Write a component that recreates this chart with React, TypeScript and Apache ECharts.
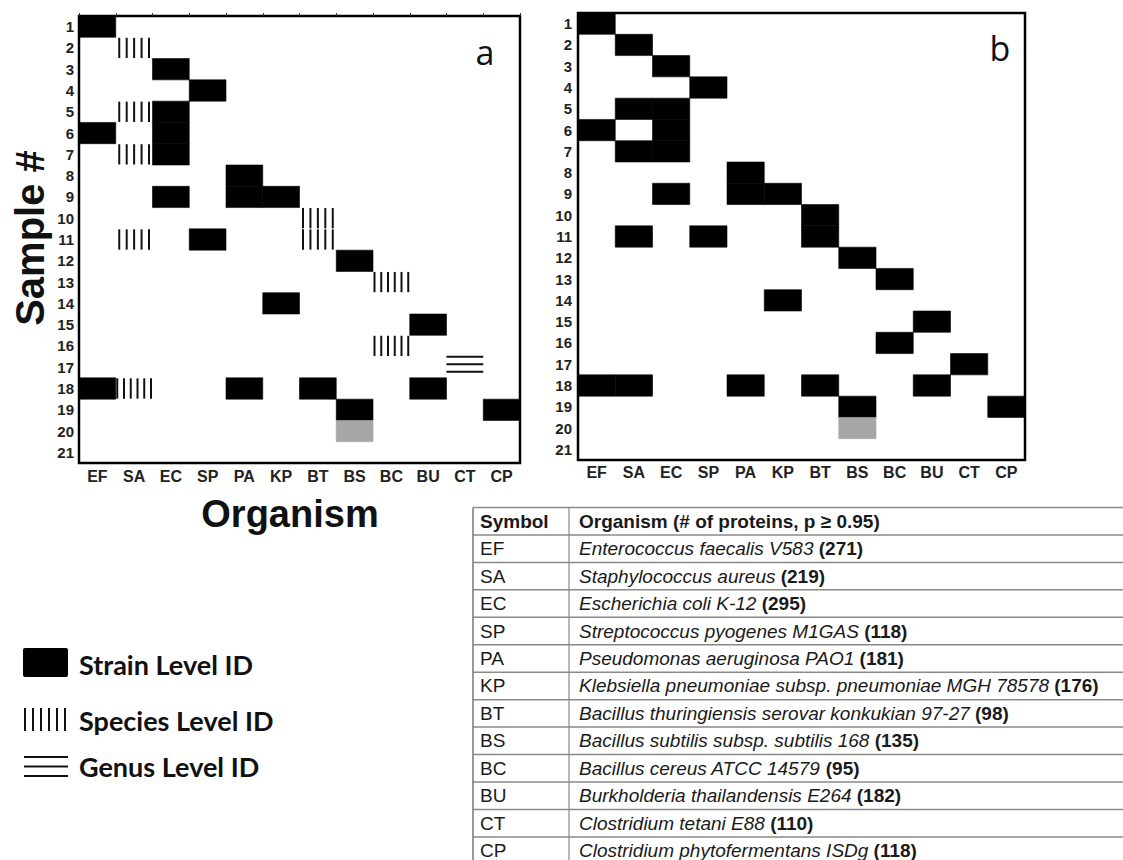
import React, { useEffect, useRef } from 'react';
import * as echarts from 'echarts';

// ---------- data ----------
const organisms = ['EF', 'SA', 'EC', 'SP', 'PA', 'KP', 'BT', 'BS', 'BC', 'BU', 'CT', 'CP'];
const samples = ['1', '2', '3', '4', '5', '6', '7', '8', '9', '10', '11', '12', '13', '14', '15', '16', '17', '18', '19', '20', '21'];

// panel a
const strainA: [string, number][] = [
  ['EF', 1], ['EC', 3], ['SP', 4], ['EC', 5], ['EF', 6], ['EC', 6], ['EC', 7], ['PA', 8],
  ['EC', 9], ['PA', 9], ['KP', 9], ['SP', 11], ['BS', 12], ['KP', 14], ['BU', 15],
  ['EF', 18], ['PA', 18], ['BT', 18], ['BU', 18], ['BS', 19], ['CP', 19],
];
const partialA: [string, number][] = [['BS', 20]];
const speciesA: [string, number, number][] = [
  ['SA', 2, 5], ['SA', 5, 5], ['SA', 7, 5], ['BT', 10, 5], ['SA', 11, 5], ['BT', 11, 5],
  ['BC', 13, 6], ['BC', 16, 6], ['SA', 18, 6],
];
const genusA: [string, number][] = [['CT', 17]];

// panel b
const strainB: [string, number][] = [
  ['EF', 1], ['SA', 2], ['EC', 3], ['SP', 4], ['SA', 5], ['EC', 5], ['EF', 6], ['EC', 6],
  ['SA', 7], ['EC', 7], ['PA', 8], ['EC', 9], ['PA', 9], ['KP', 9], ['BT', 10], ['SA', 11],
  ['SP', 11], ['BT', 11], ['BS', 12], ['BC', 13], ['KP', 14], ['BU', 15], ['BC', 16],
  ['CT', 17], ['EF', 18], ['SA', 18], ['PA', 18], ['BT', 18], ['BU', 18], ['BS', 19], ['CP', 19],
];
const partialB: [string, number][] = [['BS', 20]];

// table
const tableHeader = ['Symbol', 'Organism (# of proteins, p \u2265 0.95)'];
const tableSymbols = ['EF', 'SA', 'EC', 'SP', 'PA', 'KP', 'BT', 'BS', 'BC', 'BU', 'CT', 'CP'];
const tableNames = [
  'Enterococcus faecalis V583',
  'Staphylococcus aureus',
  'Escherichia coli K-12',
  'Streptococcus pyogenes M1GAS',
  'Pseudomonas aeruginosa PAO1',
  'Klebsiella pneumoniae subsp. pneumoniae MGH 78578',
  'Bacillus thuringiensis serovar konkukian 97-27',
  'Bacillus subtilis subsp. subtilis 168',
  'Bacillus cereus ATCC 14579',
  'Burkholderia thailandensis E264',
  'Clostridium tetani E88',
  'Clostridium phytofermentans ISDg',
];
const tableCounts = [271, 219, 295, 118, 181, 176, 98, 135, 95, 182, 110, 118];

const legendLabels = ['Strain Level ID', 'Species Level ID', 'Genus Level ID'];

// ---------- helpers ----------
const toCells = (arr: [string, number][]) => arr.map(([o, s]) => [organisms.indexOf(o), s - 1]);
const toCellsN = (arr: [string, number, number][]) => arr.map(([o, s, n]) => [organisms.indexOf(o), s - 1, n]);

const AX_FONT = 'Liberation Sans, Arial, sans-serif';

const rectRender = (color: string) => (params: any, api: any) => {
  const p = api.coord([api.value(0), api.value(1)]);
  const s = api.size([1, 1]);
  return {
    type: 'rect',
    shape: { x: p[0] - s[0] / 2, y: p[1] - s[1] / 2, width: s[0], height: s[1] },
    style: { fill: color, stroke: color, lineWidth: 0.6 },
  };
};

const speciesRender = (params: any, api: any) => {
  const p = api.coord([api.value(0), api.value(1)]);
  const s = api.size([1, 1]);
  const n = api.value(2);
  const inset = n >= 6 ? 1.5 : 3.5;
  const x0 = p[0] - s[0] / 2 + inset;
  const x1 = p[0] + s[0] / 2 - inset;
  const y0 = p[1] - s[1] / 2 + 0.5;
  const y1 = p[1] + s[1] / 2 - 0.5;
  const children = [];
  for (let i = 0; i < n; i++) {
    const x = x0 + (i * (x1 - x0)) / (n - 1);
    children.push({
      type: 'line',
      shape: { x1: x, y1: y0, x2: x, y2: y1 },
      style: { stroke: '#111', lineWidth: 2 },
    });
  }
  return { type: 'group', children };
};

const genusRender = (params: any, api: any) => {
  const p = api.coord([api.value(0), api.value(1)]);
  const s = api.size([1, 1]);
  const xa = p[0] - s[0] / 2;
  const xb = p[0] + s[0] / 2;
  const children = [-7.5, 0, 7.5].map((dy) => ({
    type: 'line',
    shape: { x1: xa, y1: p[1] - 3 + dy, x2: xb, y2: p[1] - 3 + dy },
    style: { stroke: '#111', lineWidth: 2 },
  }));
  return { type: 'group', children };
};

const xAxisBase = (gridIndex: number, margin: number) => ({
  type: 'category',
  gridIndex,
  data: organisms,
  position: 'bottom',
  axisLine: { show: false },
  axisTick: { show: false },
  splitLine: { show: false },
  axisLabel: { margin, color: '#222', fontWeight: 'bold', fontSize: 16, fontFamily: AX_FONT },
});

const yAxisBase = (gridIndex: number, margin: number) => ({
  type: 'category',
  gridIndex,
  data: samples,
  inverse: true,
  axisLine: { show: false },
  axisTick: { show: false },
  splitLine: { show: false },
  axisLabel: { margin, color: '#222', fontWeight: 'bold', fontSize: 15, fontFamily: AX_FONT },
});

function buildTable() {
  const els: any[] = [];
  const left = 473;
  const right = 1123;
  const top = 507.5;
  const rowH = 27.45;
  const divX = 569;
  const nRows = tableSymbols.length + 1;
  for (let k = 0; k < nRows; k++) {
    const y = top + k * rowH;
    els.push({
      type: 'line',
      shape: { x1: left, y1: y, x2: right, y2: y },
      style: { stroke: '#8a8a8a', lineWidth: 1.5 },
    });
  }
  els.push({ type: 'line', shape: { x1: left, y1: top, x2: left, y2: 860 }, style: { stroke: '#777', lineWidth: 1.5 } });
  els.push({ type: 'line', shape: { x1: divX, y1: top, x2: divX, y2: 860 }, style: { stroke: '#8a8a8a', lineWidth: 1.2 } });

  const base = { fontFamily: AX_FONT, fontSize: 19, fill: '#1a1a1a' };
  els.push({
    type: 'text', x: 480, y: top + rowH / 2,
    style: { ...base, text: tableHeader[0], fontWeight: 'bold', align: 'left', verticalAlign: 'middle' },
  });
  els.push({
    type: 'text', x: 579, y: top + rowH / 2,
    style: { ...base, text: tableHeader[1], fontWeight: 'bold', align: 'left', verticalAlign: 'middle' },
  });
  tableSymbols.forEach((sym, i) => {
    const cy = top + (i + 1.5) * rowH;
    els.push({
      type: 'text', x: 480, y: cy,
      style: { ...base, text: sym, align: 'left', verticalAlign: 'middle' },
    });
    els.push({
      type: 'text', x: 579, y: cy,
      style: {
        ...base,
        text: `{i|${tableNames[i]}} {b|(${tableCounts[i]})}`,
        align: 'left',
        verticalAlign: 'middle',
        rich: {
          i: { fontStyle: 'italic', fontFamily: AX_FONT, fontSize: 19, fill: '#1a1a1a' },
          b: { fontWeight: 'bold', fontFamily: AX_FONT, fontSize: 19, fill: '#1a1a1a' },
        },
      },
    });
  });
  return els;
}

function buildLegend() {
  const els: any[] = [];
  els.push({ type: 'rect', shape: { x: 23, y: 648, width: 45, height: 29, r: 2 }, style: { fill: '#000' } });
  for (let i = 0; i < 6; i++) {
    const x = 25 + i * 8;
    els.push({ type: 'line', shape: { x1: x, y1: 708, x2: x, y2: 731 }, style: { stroke: '#111', lineWidth: 2 } });
  }
  [757, 766.5, 776].forEach((y) => {
    els.push({ type: 'line', shape: { x1: 24, y1: y, x2: 68, y2: y }, style: { stroke: '#111', lineWidth: 2 } });
  });
  const ys = [664, 720, 766];
  legendLabels.forEach((t, i) => {
    els.push({
      type: 'text', x: 79, y: ys[i],
      style: { text: t, fontFamily: 'Lato, sans-serif', fontWeight: 'bold', fontSize: 27, fill: '#111', align: 'left', verticalAlign: 'middle' },
    });
  });
  return els;
}

export default function App() {
  const ref = useRef<HTMLDivElement>(null);
  useEffect(() => {
    if (!ref.current) return;
    const chart = echarts.init(ref.current, undefined, { renderer: 'svg' });
    const option: any = {
      animation: false,
      backgroundColor: '#fff',
      grid: [
        { left: 79, top: 16, width: 441, height: 447, show: true, borderColor: '#000', borderWidth: 2.5, backgroundColor: 'transparent' },
        { left: 578, top: 13, width: 447, height: 447, show: true, borderColor: '#000', borderWidth: 2.5, backgroundColor: 'transparent' },
      ],
      xAxis: [
        xAxisBase(0, 5),
        xAxisBase(1, 4),
        {
          type: 'category', gridIndex: 0, data: organisms, position: 'top',
          axisLine: { show: false }, axisLabel: { show: false }, splitLine: { show: false },
          axisTick: { show: true, length: 3, lineStyle: { color: '#333', width: 1 } },
        },
      ],
      yAxis: [yAxisBase(0, 5), yAxisBase(1, 6)],
      series: [
        { type: 'custom', name: 'strainA', xAxisIndex: 0, yAxisIndex: 0, encode: { x: 0, y: 1 }, renderItem: rectRender('#000'), data: toCells(strainA), silent: true },
        { type: 'custom', name: 'partialA', xAxisIndex: 0, yAxisIndex: 0, encode: { x: 0, y: 1 }, renderItem: rectRender('#a6a6a6'), data: toCells(partialA), silent: true },
        { type: 'custom', name: 'speciesA', xAxisIndex: 0, yAxisIndex: 0, encode: { x: 0, y: 1 }, renderItem: speciesRender, data: toCellsN(speciesA), silent: true },
        { type: 'custom', name: 'genusA', xAxisIndex: 0, yAxisIndex: 0, encode: { x: 0, y: 1 }, renderItem: genusRender, data: toCells(genusA), silent: true },
        { type: 'custom', name: 'strainB', xAxisIndex: 1, yAxisIndex: 1, encode: { x: 0, y: 1 }, renderItem: rectRender('#000'), data: toCells(strainB), silent: true },
        { type: 'custom', name: 'partialB', xAxisIndex: 1, yAxisIndex: 1, encode: { x: 0, y: 1 }, renderItem: rectRender('#a6a6a6'), data: toCells(partialB), silent: true },
      ],
      graphic: [
        { type: 'text', x: 485, y: 52, style: { text: 'a', fontFamily: 'Open Sans, sans-serif', fontSize: 34, fill: '#111', align: 'center', verticalAlign: 'middle' } },
        { type: 'text', x: 1000, y: 48, style: { text: 'b', fontFamily: 'Open Sans, sans-serif', fontSize: 34, fill: '#111', align: 'center', verticalAlign: 'middle' } },
        { type: 'text', x: 30, y: 238, rotation: Math.PI / 2, style: { text: 'Sample #', fontFamily: AX_FONT, fontWeight: 'bold', fontSize: 40, fill: '#111', align: 'center', verticalAlign: 'middle' } },
        { type: 'text', x: 290, y: 514, style: { text: 'Organism', fontFamily: AX_FONT, fontWeight: 'bold', fontSize: 38, fill: '#111', align: 'center', verticalAlign: 'middle' } },
        ...buildLegend(),
        ...buildTable(),
      ],
    };
    chart.setOption(option);
    return () => chart.dispose();
  }, []);
  return <div ref={ref} style={{ position: 'absolute', left: 0, top: 0, width: 1123, height: 860 }} />;
}
